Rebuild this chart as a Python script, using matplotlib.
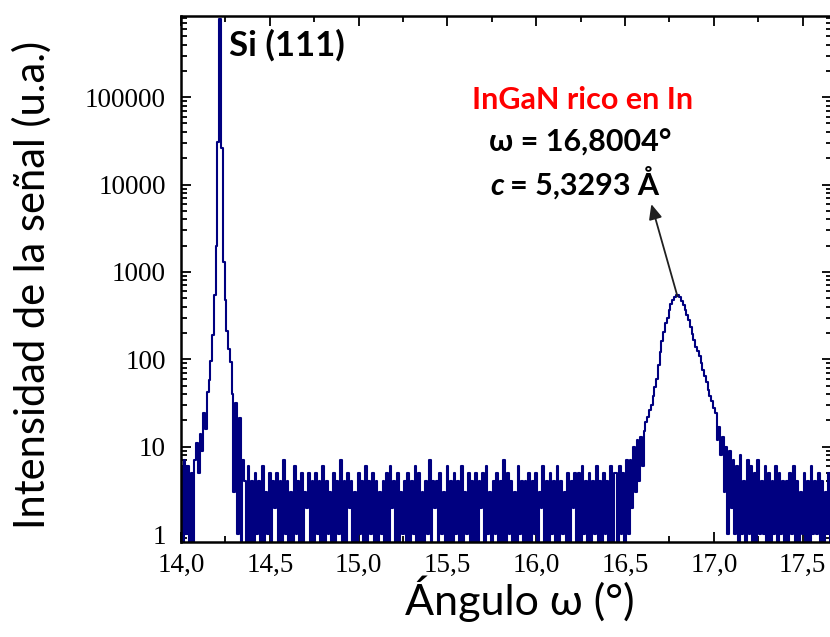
import numpy as np
import matplotlib
matplotlib.use('Agg')
import matplotlib.pyplot as plt
from matplotlib.ticker import FuncFormatter, LogLocator, MultipleLocator, FixedLocator

# omega scan, 0.01 deg steps starting at 14.00
angle_start = 14.00
angle_step = 0.01

# 14.00 - 14.33 : Si (111) substrate peak
si_counts = [6, 0, 7, 1, 6, 0, 5, 0, 7, 11,
             5, 14, 9, 24, 16, 42, 58, 95, 190, 540,
             2000, 31000, 780000, 26000, 1300, 480, 210, 130, 93, 40,
             3, 32, 1, 21]
# 14.34 - 16.44 : background counts
background_counts = ("0740604051" "4060315042" "5040714030" "6140503250" "4051406041"
                     "3050417040" "5240305140" "6041504031" "4050624050" "3140504160"
                     "5030417042" "4051306040" "5140603150" "4050425061" "3041504070"
                     "5140306140" "4050415032" "6040514060" "4130504250" "5061405041"
                     "60405140605")
# 16.45 - 17.10 : InGaN peak
ingan_counts = [5, 0, 6, 1, 5, 0, 7, 1, 7, 2,
                10, 3, 12, 4, 13, 6, 15, 19, 22, 26,
                30, 38, 48, 60, 85, 120, 160, 205, 260, 300,
                370, 430, 480, 520, 545, 540, 510, 470, 420, 365,
                320, 280, 235, 195, 165, 140, 125, 110, 90, 75,
                65, 55, 45, 38, 33, 28, 24, 12, 17, 8,
                13, 3, 10, 1, 9, 2]
# 17.11 - 17.66 : background after the peak
tail_counts = ("7160814071" "6050714160" "5041605140" "4051604031" "5040614150" "403150")

x_ticks = [14.0, 14.5, 15.0, 15.5, 16.0, 16.5, 17.0, 17.5]
y_ticks = [1, 10, 100, 1000, 10000, 100000]

counts = np.array(si_counts + [int(c) for c in background_counts]
                  + ingan_counts + [int(c) for c in tail_counts], dtype=float)
omega = angle_start + angle_step * np.arange(len(counts))

sans = ['Lato', 'DejaVu Sans']

fig = plt.figure(figsize=(8.3, 6.37), dpi=100)
ax = fig.add_axes([181 / 830, 1 - 542 / 637, 651 / 830, 526 / 637])

ax.plot(omega, counts, color='#000080', lw=1.5, drawstyle='steps-mid')
ax.set_yscale('log')
ax.set_xlim(14.0, 17.665)
ax.set_ylim(0.81, 8.5e5)

ax.xaxis.set_major_locator(FixedLocator(x_ticks))
ax.xaxis.set_minor_locator(MultipleLocator(0.25))
ax.xaxis.set_major_formatter(FuncFormatter(lambda v, p: f'{v:.1f}'.replace('.', ',')))
ax.yaxis.set_major_locator(FixedLocator(y_ticks))
ax.yaxis.set_minor_locator(LogLocator(base=10, subs=np.arange(2, 10)))
ax.yaxis.set_major_formatter(FuncFormatter(lambda v, p: f'{int(v)}'))
ax.yaxis.set_minor_formatter(FuncFormatter(lambda v, p: ''))

ax.tick_params(which='both', direction='in', top=True, right=True, width=1.3)
ax.tick_params(which='major', length=7)
ax.tick_params(which='minor', length=4)
ax.tick_params(axis='y', which='major', pad=11)
ax.tick_params(axis='x', which='major', pad=8)
for lab in ax.get_xticklabels() + ax.get_yticklabels():
    lab.set_fontfamily('Liberation Serif')
    lab.set_fontsize(19.5)
for sp in ax.spines.values():
    sp.set_linewidth(1.8)

ax.set_ylabel('Intensidad de la señal (u.a.)', family=sans, fontsize=30)
ax.yaxis.set_label_coords(-0.198, 0.489)
ax.set_xlabel('Ángulo ω (°)', family=sans, fontsize=31)
ax.xaxis.set_label_coords(0.521, -0.064)

fig.text(229 / 830, 1 - 45 / 637, 'Si (111)', family=sans, fontsize=25,
         fontweight='bold', ha='left', va='center')
fig.text(583 / 830, 1 - 100 / 637, 'InGaN rico en In', family=sans, fontsize=22,
         fontweight='bold', color='#ff0000', ha='center', va='center')
fig.text(580 / 830, 1 - 143 / 637, 'ω = 16,8004°', family=sans, fontsize=22,
         fontweight='bold', ha='center', va='center')
fig.text(504 / 830, 1 - 195 / 637, 'c', family=sans, fontsize=22,
         fontweight='bold', fontstyle='italic', ha='right', va='baseline')
fig.text(510 / 830, 1 - 195 / 637, '= 5,3293 Å', family=sans, fontsize=22,
         fontweight='bold', ha='left', va='baseline')

ax.annotate('', xy=(16.648, 5970), xytext=(16.795, 525),
            arrowprops=dict(arrowstyle='-|>,head_length=0.9,head_width=0.4',
                            color='#202020', lw=1.3, shrinkA=0, shrinkB=0))

fig.savefig('out.png', dpi=100)
